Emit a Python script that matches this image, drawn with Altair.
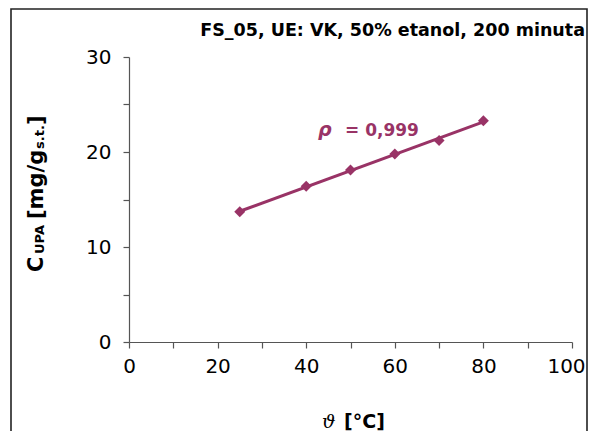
import altair as alt
import pandas as pd

# data
temps = [25, 40, 50, 60, 70, 80]
c_upa = [13.7, 16.4, 18.1, 19.8, 21.2, 23.3]

title_text = "FS_05, UE: VK, 50% etanol, 200 minuta"
rho_symbol = "ρ"
rho_value = "= 0,999"
x_title_sym = "ϑ"
x_title_unit = "[°C]"
y_title_parts = ["C", "UPA", "[mg/g", "s.t.", "]"]

PLUM = "#993366"
FONT = "DejaVu Sans"

df = pd.DataFrame({"t": temps, "c": c_upa})
one = pd.DataFrame({"a": [0]})

xs = alt.Scale(domain=[0, 100], nice=False)
ys = alt.Scale(domain=[0, 30], nice=False)

x_enc = alt.X("t:Q", scale=xs, axis=alt.Axis(
    values=list(range(0, 101, 10)),
    labelExpr="datum.value % 20 == 0 ? datum.label : ''",
    labelOffset={"condition": {"test": "datum.value == 100", "value": -6},
                 "value": 0},
    title=None, tickSize=6, labelPadding=8, labelFlush=False))
y_enc = alt.Y("c:Q", scale=ys, axis=alt.Axis(
    values=list(range(0, 31, 5)),
    labelExpr="datum.value % 10 == 0 ? datum.label : ''",
    title=None, tickSize=6, labelPadding=12))

base = alt.Chart(df)

trend = base.transform_regression("t", "c").mark_line(
    color=PLUM, strokeWidth=3).encode(x=x_enc, y=y_enc)
pts = base.mark_point(shape="diamond", filled=True, size=120, color=PLUM,
                      opacity=1).encode(x="t:Q", y="c:Q")

frame = alt.Chart(one).mark_rect(fill="white", fillOpacity=0, stroke="#222",
                                 strokeWidth=1.6).encode(
    x=alt.value(-118), x2=alt.value(458), y=alt.value(-48), y2=alt.value(400))

title = alt.Chart(one).mark_text(text=title_text, font=FONT, fontWeight="bold",
                                 fontSize=17.5, align="right",
                                 baseline="alphabetic", color="black").encode(
    x=alt.value(456), y=alt.value(-21))

rho_s = alt.Chart(one).mark_text(text=rho_symbol, font=FONT, fontWeight="bold",
                                 fontStyle="italic", fontSize=19, align="left",
                                 baseline="alphabetic", color=PLUM).encode(
    x=alt.value(189), y=alt.value(79))
rho_v = alt.Chart(one).mark_text(text=rho_value, font=FONT, fontWeight="bold",
                                 fontSize=17, align="left",
                                 baseline="alphabetic", color=PLUM).encode(
    x=alt.value(216), y=alt.value(79))

XT_Y = 371
xt1 = alt.Chart(one).mark_text(text=x_title_sym, font="DejaVu Serif",
                               fontStyle="italic", fontSize=19, align="left",
                               baseline="alphabetic", color="black").encode(
    x=alt.value(193), y=alt.value(XT_Y))
xt2 = alt.Chart(one).mark_text(text=x_title_unit, font=FONT, fontWeight="bold",
                               fontSize=19, align="left",
                               baseline="alphabetic", color="black").encode(
    x=alt.value(215), y=alt.value(XT_Y))

# y title pieces (rotated, reading upwards): text, start y (px), size, baseline x
y_pos = [272 - 57, 254 - 57, 219 - 57, 149 - 57, 125 - 57]
y_size = [21, 13, 21, 13, 21]
y_bx = [-86, -85, -86, -85, -86]
ytitle_layers = []
for txt, yp, sz, bx in zip(y_title_parts, y_pos, y_size, y_bx):
    ytitle_layers.append(
        alt.Chart(one).mark_text(text=txt, font=FONT, fontWeight="bold",
                                 fontSize=sz, angle=270, align="left",
                                 baseline="alphabetic", color="black").encode(
            x=alt.value(bx), y=alt.value(yp)))

chart = alt.layer(frame, trend, pts, title, rho_s, rho_v, xt1, xt2,
                  *ytitle_layers).properties(
    width=443, height=285,
    padding={"left": 121, "top": 49, "right": 16, "bottom": 89},
    autosize=alt.AutoSizeParams(type="none"),
    background="white",
).configure_view(stroke=None).configure_axis(
    grid=False, labelFont=FONT, labelFontSize=20, labelColor="black",
    domainColor="#555", tickColor="#555", domainWidth=1.2, tickWidth=1.2,
)

chart.save("out.html", embed_options={"renderer": "svg", "actions": False})
